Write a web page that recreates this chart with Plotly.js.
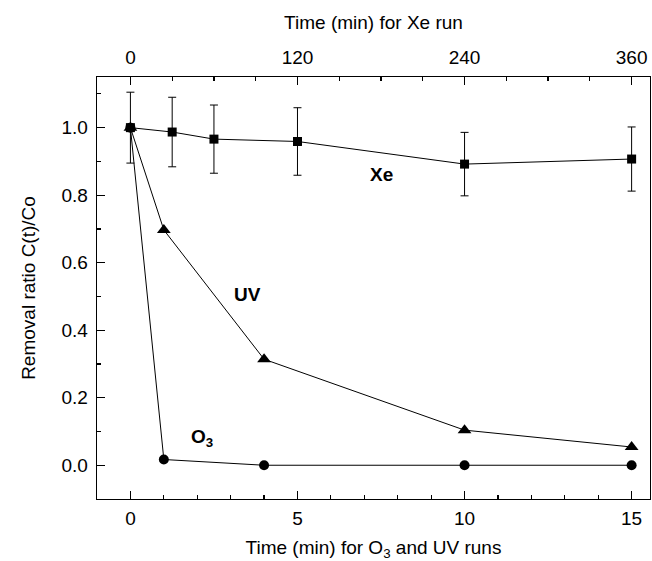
<!DOCTYPE html>
<html>
<head>
<meta charset="utf-8">
<script src="https://cdn.plot.ly/plotly-3.0.1.min.js"></script>
<style>html,body{margin:0;padding:0;background:#fff}#chart{width:652px;height:561px}</style>
</head>
<body>
<div id="chart"></div>
<script>
// Data
const o3uvTime = [0, 1, 4, 10, 15];           // min, bottom axis
const uvRatio = [1.0, 0.697, 0.314, 0.104, 0.054];
const o3Ratio = [1.0, 0.017, 0.0, 0.0, 0.0];
const xeTime = [0, 30, 60, 120, 240, 360];    // min, top axis
const xeRatio = [1.0, 0.987, 0.966, 0.959, 0.892, 0.907];
const xeErr = [0.105, 0.103, 0.101, 0.100, 0.094, 0.095];
const bottomTicks = [0, 5, 10, 15];
const topTicks = [0, 120, 240, 360];
const yTicks = [0.0, 0.2, 0.4, 0.6, 0.8, 1.0];

const font = "Liberation Sans, Arial, sans-serif";
const fs = 19;
const lineStyle = {color: '#000', width: 1};

const traces = [
  {x: o3uvTime, y: uvRatio, xaxis: 'x', yaxis: 'y', mode: 'lines+markers', name: 'UV',
   line: lineStyle, marker: {symbol: 'triangle-up', size: 12, color: '#000'}},
  {x: o3uvTime, y: o3Ratio, xaxis: 'x', yaxis: 'y', mode: 'lines+markers', name: 'O3',
   line: lineStyle, marker: {symbol: 'circle', size: 10, color: '#000'}},
  {x: xeTime, y: xeRatio, xaxis: 'x2', yaxis: 'y', mode: 'lines+markers', name: 'Xe',
   line: lineStyle, marker: {symbol: 'square', size: 9, color: '#000'},
   error_y: {type: 'data', array: xeErr, visible: true, color: '#000', thickness: 1, width: 4}}
];

const layout = {
  width: 652, height: 561,
  margin: {l: 97, r: 2, t: 77, b: 62},
  paper_bgcolor: '#fff', plot_bgcolor: '#fff',
  showlegend: false,
  font: {family: font, size: fs, color: '#000'},
  xaxis: {
    range: [-1, 15.55], tickvals: bottomTicks, ticktext: bottomTicks.map(String),
    ticks: 'inside', ticklen: 8, tickwidth: 1.2, tickcolor: '#000',
    minor: {dtick: 1, tick0: 0, ticks: 'inside', ticklen: 4, tickwidth: 1.2, tickcolor: '#000'},
    showgrid: false, zeroline: false, showline: true, linecolor: '#000', linewidth: 1.3,
    ticklabelstandoff: 2,
    tickfont: {family: font, size: fs},
    title: {text: 'Time (min) for O<sub>3</sub> and UV runs', font: {family: font, size: fs}, standoff: 13}
  },
  xaxis2: {
    overlaying: 'x', side: 'top', anchor: 'y',
    range: [-24, 373.2], tickvals: topTicks, ticktext: topTicks.map(String),
    ticks: 'inside', ticklen: 8, tickwidth: 1.2, tickcolor: '#000',
    minor: {dtick: 30, tick0: 0, ticks: 'inside', ticklen: 4, tickwidth: 1.2, tickcolor: '#000'},
    showgrid: false, zeroline: false, showline: true, linecolor: '#000', linewidth: 1.3,
    ticklabelstandoff: 4,
    tickfont: {family: font, size: fs},
    title: {text: 'Time (min) for Xe run', font: {family: font, size: fs}, standoff: 12}
  },
  yaxis: {
    range: [-0.1, 1.15], tickvals: yTicks, ticktext: yTicks.map(v => v.toFixed(1)),
    ticks: 'inside', ticklen: 8, tickwidth: 1.2, tickcolor: '#000',
    minor: {dtick: 0.1, tick0: 0, ticks: 'inside', ticklen: 4, tickwidth: 1.2, tickcolor: '#000'},
    showgrid: false, zeroline: false, showline: true, linecolor: '#000', linewidth: 1.3,
    mirror: true,
    ticklabelstandoff: 4,
    tickfont: {family: font, size: fs},
    title: {text: 'Removal ratio C(t)/Co', font: {family: font, size: fs}, standoff: 20}
  },
  annotations: [
    {x: 7.5, y: 0.86, xref: 'x', yref: 'y', text: '<b>Xe</b>', showarrow: false,
     font: {family: font, size: fs}},
    {x: 3.5, y: 0.505, xref: 'x', yref: 'y', text: '<b>UV</b>', showarrow: false,
     font: {family: font, size: fs}},
    {x: 2.15, y: 0.08, xref: 'x', yref: 'y', text: '<b>O<sub>3</sub></b>', showarrow: false,
     font: {family: font, size: fs}}
  ]
};

Plotly.newPlot('chart', traces, layout, {displayModeBar: false, staticPlot: true});
</script>
</body>
</html>
